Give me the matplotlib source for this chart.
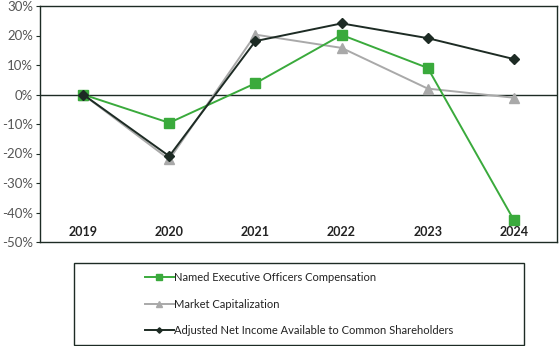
import matplotlib.pyplot as plt
from matplotlib.patches import Rectangle

plt.rcParams['font.family'] = ['Lato', 'DejaVu Sans']

years = ['2019', '2020', '2021', '2022', '2023', '2024']
neo_comp = [0, -9.6, 3.8, 20.2, 9.0, -42.6]
market_cap = [0, -22.0, 20.3, 15.8, 2.0, -1.1]
net_income = [0, -20.9, 18.1, 24.1, 19.1, 12.0]

dark = '#1d2b24'
green = '#3aaa3c'
grey = '#a9a9a9'

fig = plt.figure(figsize=(5.59, 3.46), dpi=100)
ax = fig.add_axes([40 / 559, 1 - 242 / 346, 517 / 559, 236 / 346])

x = range(len(years))
ax.plot(x, neo_comp, color=green, marker='s', markersize=7, lw=1.4,
        label='Named Executive Officers Compensation', zorder=3)
ax.plot(x, market_cap, color=grey, marker='^', markersize=7, lw=1.4,
        label='Market Capitalization', zorder=2)
ax.plot(x, net_income, color=dark, marker='D', markersize=5, lw=1.4,
        label='Adjusted Net Income Available to Common Shareholders', zorder=4)

ax.axhline(0, color=dark, lw=1.0, zorder=1)
ax.set_xlim(-0.5, 5.5)
ax.set_ylim(-50, 30)
ax.set_yticks(range(-50, 31, 10))
ax.set_yticklabels([f'{v}%' for v in range(-50, 31, 10)])
ax.set_xticks([])
ax.tick_params(axis='y', length=3, color=dark, labelsize=9.5, labelcolor='#555555', pad=2)
for s in ax.spines.values():
    s.set_color(dark)
    s.set_linewidth(1.0)

for i, yr in enumerate(years):
    ax.text(i, -46.5, yr, ha='center', va='center', fontsize=9,
            fontweight='bold', color='#222222')

fig.patches.append(Rectangle((74 / 559, 1 - 345 / 346), 450 / 559, 82 / 346,
                             transform=fig.transFigure, fill=False,
                             edgecolor=dark, lw=1.0))
handles, labels = ax.get_legend_handles_labels()
leg = fig.legend(handles, labels, loc='upper left',
                 bbox_to_anchor=(135 / 559, 1 - 262 / 346),
                 frameon=False, fontsize=8, handlelength=2.6,
                 handletextpad=0.05, labelspacing=1.4, markerscale=0.55,
                 labelcolor='#222222')

fig.savefig('out.png', dpi=100)
